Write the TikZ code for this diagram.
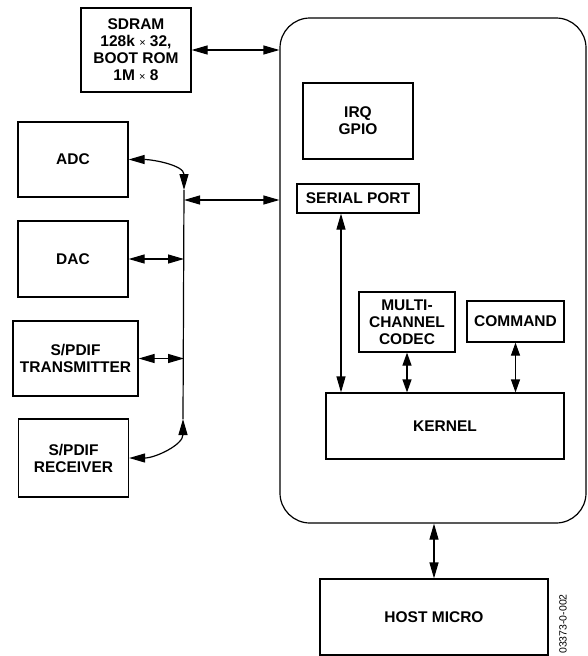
\documentclass[tikz,border=0pt]{standalone}
\usepackage{fontspec}
\setmainfont{Liberation Sans}
\usetikzlibrary{arrows.meta,positioning}
\tikzset{blk/.style={rectangle,draw=black,line width=1.2pt,align=center,inner sep=0pt,
    font=\bfseries\fontsize{15.5}{17}\selectfont}}
\tikzset{dbl/.style={{Triangle[length=16pt,width=9pt]}-{Triangle[length=16pt,width=9pt]},line width=1.2pt}}
\tikzset{dblshort/.style={{Triangle[length=13pt,width=9pt]}-{Triangle[length=13pt,width=9pt]},line width=1.2pt}}
\newcommand{\tms}{{\mdseries\fontsize{11}{11}\selectfont ×}}

\begin{document}
\begin{tikzpicture}[x=1pt,y=-1pt]
% \draw[help lines] (0,0) grid (587,656);
\useasboundingbox (0,0) rectangle (587,656);
\node (chip) [blk,rounded corners=30pt,minimum width=306pt,minimum height=505pt] at (433,270.5) {};
%
\node (sdram) [blk,minimum width=110pt,minimum height=84pt] at (136,50) {SDRAM\\128k \tms\ 32,\\BOOT ROM\\1M \tms\ 8};
\node (adc) [blk,minimum width=110pt,minimum height=75pt] at (73,159.5) {ADC};
\node (dac) [blk,minimum width=110pt,minimum height=76pt] at (73,259) {DAC};
\node (tx) [blk,minimum width=125pt,minimum height=75pt] at (75.5,358.5) {S/PDIF\\TRANSMITTER};
\node (rx) [blk,minimum width=110pt,minimum height=78pt] at (73.5,458) {S/PDIF\\RECEIVER};
%
\node (irq) [blk,minimum width=110pt,minimum height=76pt] at (358,121) {IRQ\\GPIO};
\node (serial) [blk,minimum width=122pt,minimum height=29pt] at (358,198.5) {SERIAL PORT};
\node (codec) [blk,minimum width=96pt,minimum height=60pt] at (407,322) {MULTI-\\CHANNEL\\CODEC};
\node (cmd) [blk,minimum width=97pt,minimum height=41pt] at (515.5,321.5) {COMMAND};
\node (kernel) [blk,minimum width=238pt,minimum height=66pt] at (445,426) {KERNEL};
\node (host) [blk,minimum width=228pt,minimum height=76pt] at (434,617) {HOST MICRO};
\node (figid) [rotate=90,font=\fontsize{10.5}{11}\selectfont] at (563,624) {03373-0-002};
%
\coordinate (bustop) at (184,190);
\coordinate (busbot) at (183,419);
\coordinate (busmid) at (184,200);
\draw[line width=1.2pt] (bustop) -- (busbot);
\draw[dbl] (adc.east) to[out=0,in=90] (bustop);
\draw[dbl] (rx.east) to[out=0,in=-90] (busbot);
\draw[dbl] (dac.east) -- (dac.east -| bustop);
\draw[dbl] (tx.east) -- (tx.east -| bustop);
\draw[dbl] (busmid) -- (busmid -| chip.west);
\draw[dbl] (sdram.east) -- (sdram.east -| chip.west);
%
\draw[dbl] ([xshift=-17pt]serial.south) -- ([xshift=-17pt]serial.south |- kernel.north);
\draw[dblshort] (codec.south) -- (codec.south |- kernel.north);
\draw[dblshort] (cmd.south) -- (cmd.south |- kernel.north);
\draw[dbl] (chip.south -| host.north) -- (host.north);
\end{tikzpicture}
\end{document}
